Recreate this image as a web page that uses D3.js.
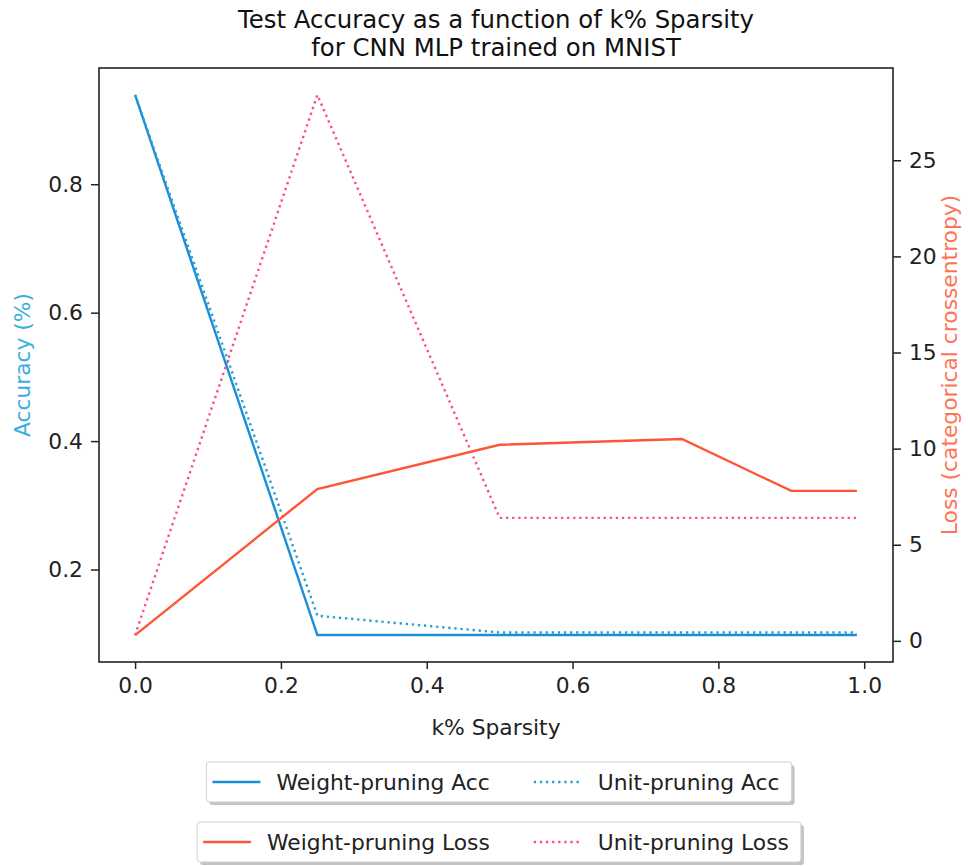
<!DOCTYPE html>
<html><head><meta charset="utf-8">
<script src="https://cdn.jsdelivr.net/npm/d3@7"></script>
<style>body{margin:0;background:#fff;} text{font-family:"DejaVu Sans",sans-serif;}</style>
</head><body>
<svg id="c" width="968" height="866"></svg>
<script>
const sparsity = [0, 0.25, 0.5, 0.75, 0.9, 0.99];
const weightAcc = [0.939, 0.098, 0.098, 0.098, 0.098, 0.098];
const unitAcc = [0.939, 0.128, 0.102, 0.102, 0.102, 0.102];
const weightLoss = [0.3, 7.9, 10.2, 10.5, 7.8, 7.8];
const unitLoss = [0.3, 28.4, 6.4, 6.4, 6.4, 6.4];
const xTicks = [0, 0.2, 0.4, 0.6, 0.8, 1.0];
const accTicks = [0.2, 0.4, 0.6, 0.8];
const lossTicks = [0, 5, 10, 15, 20, 25];
const titleLines = ["Test Accuracy as a function of k% Sparsity", "for CNN MLP trained on MNIST"];

const svg = d3.select("#c");
const L = 99, R = 893, T = 68, B = 662;
const x = d3.scaleLinear().domain([-0.0495, 1.0395]).range([L, R]);
const yA = d3.scaleLinear().domain([0.056, 0.981]).range([B, T]);
const yL = d3.scaleLinear().domain([-1.1, 29.8]).range([B, T]);

const fs = 21.8;
const cx = (L + R) / 2;
// title
svg.selectAll("text.title").data(titleLines).join("text").attr("class","title")
  .attr("x", cx).attr("y", (d,i)=>27.5 + i*28.8).attr("text-anchor","middle")
  .attr("font-size",24.4).attr("fill","#111").text(d=>d);

// axes
const ax = svg.append("g").attr("transform",`translate(0,${B})`).call(d3.axisBottom(x).tickValues(xTicks).tickFormat(d3.format(".1f")).tickSizeOuter(0).tickSize(7).tickPadding(9));
const ay = svg.append("g").attr("transform",`translate(${L},0)`).call(d3.axisLeft(yA).tickValues(accTicks).tickFormat(d3.format(".1f")).tickSizeOuter(0).tickSize(8).tickPadding(8));
const ayr = svg.append("g").attr("transform",`translate(${R},0)`).call(d3.axisRight(yL).tickValues(lossTicks).tickFormat(d3.format("d")).tickSizeOuter(0).tickSize(8).tickPadding(8));
[ax,ay,ayr].forEach(g=>{
  g.select(".domain").remove();
  g.selectAll(".tick line").attr("stroke","#222").attr("stroke-width",1.5);
  g.selectAll(".tick text").attr("font-size",fs).attr("fill","#222").attr("font-family","DejaVu Sans");
});
svg.append("rect").attr("x",L).attr("y",T).attr("width",R-L).attr("height",B-T).attr("fill","none").attr("stroke","#222").attr("stroke-width",1.6);

// labels
svg.append("text").attr("x", cx).attr("y", 735).attr("text-anchor","middle").attr("font-size",fs).attr("fill","#222").text("k% Sparsity");
svg.append("text").attr("transform",`translate(30,${(T+B)/2}) rotate(-90)`).attr("text-anchor","middle").attr("font-size",fs).attr("fill","#3aaee2").text("Accuracy (%)");
svg.append("text").attr("transform",`translate(957,${(T+B)/2}) rotate(-90)`).attr("text-anchor","middle").attr("font-size",fs).attr("fill","#ff7356").text("Loss (categorical crossentropy)");

const series = [
  {name:"Weight-pruning Acc", vals:weightAcc, y:yA, color:"#1a8fd8", dash:null},
  {name:"Unit-pruning Acc", vals:unitAcc, y:yA, color:"#2a9fd0", dash:"2.3,3.8"},
  {name:"Weight-pruning Loss", vals:weightLoss, y:yL, color:"#ff5436", dash:null},
  {name:"Unit-pruning Loss", vals:unitLoss, y:yL, color:"#ff4f72", dash:"2.3,3.8"}
];
const plot = svg.append("g");
series.forEach(s=>{
  const line = d3.line().x((d,i)=>x(sparsity[i])).y(d=>s.y(d));
  plot.append("path").datum(s.vals).attr("d",line).attr("fill","none").attr("stroke",s.color).attr("stroke-width",2.4).attr("stroke-dasharray",s.dash);
});

// legends
function legend(cxL,y0,h,items){
  const g = svg.append("g");
  const shadow = g.append("rect"), frame = g.append("rect");
  const texts = items.map(s=>g.append("text").attr("font-size",fs).attr("fill","#222").text(s.name));
  const widths = texts.map(t=>t.node().getComputedTextLength());
  const hl = 48, pad0 = 6, tp = 16, cs = 44, padR = 12;
  const w = pad0 + hl + tp + widths[0] + cs + hl + tp + widths[1] + padR;
  const x0 = cxL - w/2;
  shadow.attr("x",x0+3).attr("y",y0+3).attr("width",w).attr("height",h).attr("fill","#888").attr("opacity",0.5).attr("rx",3);
  frame.attr("x",x0).attr("y",y0).attr("width",w).attr("height",h).attr("fill","#fff").attr("stroke","#d0d0d0").attr("stroke-width",1).attr("rx",3);
  let cur = x0 + pad0;
  items.forEach((s,i)=>{
    g.append("line").attr("x1",cur).attr("x2",cur+hl).attr("y1",y0+h/2).attr("y2",y0+h/2).attr("stroke",s.color).attr("stroke-width",2.4).attr("stroke-dasharray",s.dash);
    cur += hl + tp;
    texts[i].attr("x",cur).attr("y",y0+h/2+7.5).raise();
    cur += widths[i] + cs;
  });
}
legend(499,762,40,[series[0],series[1]]);
legend(499,822,40,[series[2],series[3]]);
</script>
</body></html>
